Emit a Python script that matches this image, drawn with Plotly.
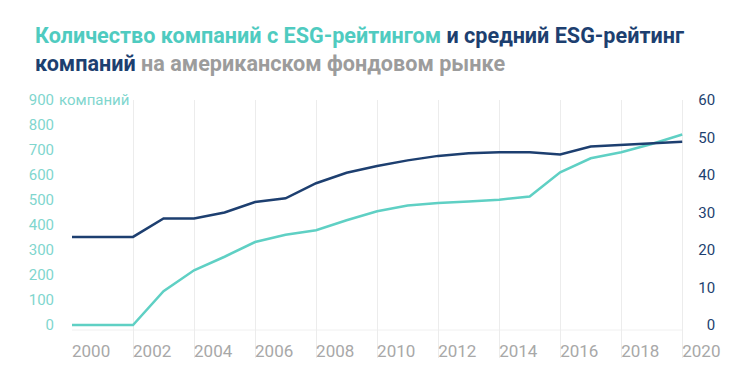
import plotly.graph_objects as go

years = list(range(2000, 2021))
companies = [0, 0, 0, 135, 219, 273, 332, 361, 379, 419, 455, 478, 488, 494, 501, 514, 611, 667, 691, 724, 762]
esg_rating = [23.5, 23.5, 23.5, 28.4, 28.4, 30.0, 32.8, 33.8, 37.8, 40.6, 42.4, 43.9, 45.1, 45.8, 46.1, 46.1, 45.5, 47.6, 48.1, 48.6, 48.9]

x_ticks = list(range(2000, 2021, 2))
left_ticks = [0, 100, 200, 300, 400, 500, 600, 700, 800, 900]
left_text = ["0", "100", "200", "300", "400", "500", "600", "700", "800", "900"]
right_ticks = [0, 10, 20, 30, 40, 50, 60]
right_text = ["\u20070", "10", "20", "30", "40", "50", "60"]

TEAL = "#5fd0c4"
TEAL_T = "#4fcbc0"
TEAL_L = "#7fd6ce"
NAVY = "#1d3f70"
GRAY = "#9c9c9c"
XGRAY = "#a8a8a8"
FONT = "Roboto"

X_MIN, X_MAX = 2000, 2021.5
x_end_frac = (years[-1] - X_MIN) / (X_MAX - X_MIN)

fig = go.Figure()
fig.add_trace(go.Scatter(x=years, y=companies, mode="lines",
                         line=dict(color=TEAL, width=2.5), yaxis="y", showlegend=False))
fig.add_trace(go.Scatter(x=years, y=esg_rating, mode="lines",
                         line=dict(color=NAVY, width=2.5), yaxis="y2", showlegend=False))

fig.update_layout(
    width=735, height=375,
    margin=dict(l=72, r=7, t=100, b=17),
    paper_bgcolor="white", plot_bgcolor="white",
    font=dict(family=FONT),
    xaxis=dict(
        range=[X_MIN, X_MAX], tickvals=x_ticks, ticktext=[str(v) for v in x_ticks],
        showgrid=True, gridcolor="#ececec", gridwidth=1,
        showline=False, zeroline=False, ticks="",
        ticklabelposition="inside right", ticklabelstandoff=-8,
        tickfont=dict(family=FONT, size=17, color=XGRAY),
    ),
    yaxis=dict(
        range=[-132, 900], tickvals=left_ticks, ticktext=left_text,
        showgrid=False, zeroline=False,
        showline=False, ticks="", ticklabelstandoff=17,
        tickfont=dict(family=FONT, size=15, color=TEAL_L),
    ),
    yaxis2=dict(
        range=[-8.8, 60], overlaying="y", side="right", anchor="free", position=x_end_frac,
        tickvals=right_ticks, ticktext=right_text,
        showgrid=False, zeroline=False, showline=False, ticks="", ticklabelstandoff=15,
        tickfont=dict(family=FONT, size=15, color=NAVY),
    ),
    shapes=[dict(type="line", xref="paper", yref="y", x0=0, x1=x_end_frac, y0=-20, y1=-20,
                 line=dict(color="#f0f0f0", width=1), layer="below")],
    annotations=[
        dict(text="компаний", xref="paper", yref="y", x=0, y=900,
             xanchor="left", yanchor="middle", xshift=-15, showarrow=False,
             font=dict(family=FONT, size=15, color=TEAL_L)),
        dict(text=(f"<span style='color:{TEAL_T}'>Количество компаний с ESG-рейтингом</span> "
                   f"<span style='color:{NAVY}'>и средний ESG-рейтинг</span>"),
             xref="paper", yref="paper", x=0, y=1, xanchor="left", yanchor="middle",
             xshift=-39, yshift=65, showarrow=False,
             font=dict(family=FONT, size=21.6, weight="bold")),
        dict(text=(f"<span style='color:{NAVY}'>компаний</span> "
                   f"<span style='color:{GRAY}'>на американском фондовом рынке</span>"),
             xref="paper", yref="paper", x=0, y=1, xanchor="left", yanchor="middle",
             xshift=-39, yshift=37, showarrow=False,
             font=dict(family=FONT, size=21.6, weight="bold")),
    ],
)

fig.write_html("out.html", config={"displayModeBar": False},
               post_script="document.body.style.margin='0';")
